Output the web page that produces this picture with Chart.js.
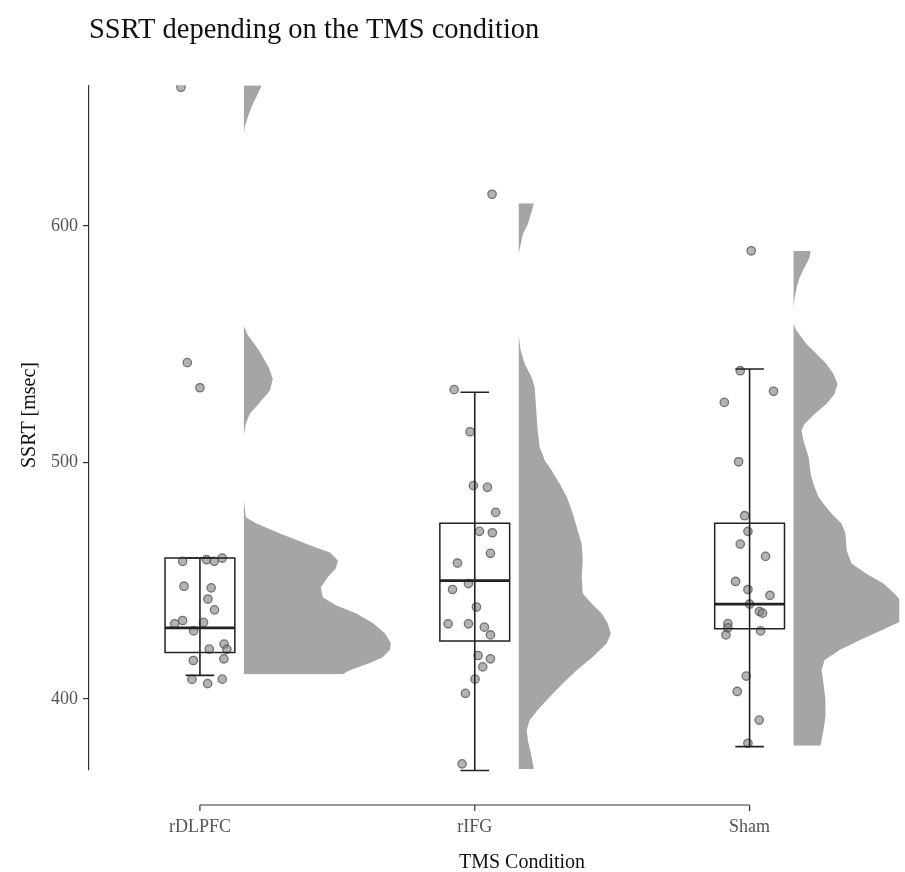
<!DOCTYPE html>
<html>
<head>
<meta charset="utf-8">
<script src="https://cdn.jsdelivr.net/npm/chart.js@4/dist/chart.umd.min.js"></script>
<style>
  html, body { margin: 0; padding: 0; background: #fff; }
  canvas { display: block; }
</style>
</head>
<body>
<canvas id="c" width="905" height="872"></canvas>
<script>
const categories = ['rDLPFC', 'rIFG', 'Sham']
const yTicks = [400, 500, 600]

// SSRT per participant (msec) and the horizontal jitter (category units)
const ssrtDLPFC = [658.6, 542.2, 531.6, 459.6, 458.9, 458.2, 458.2, 447.7, 447.0, 442.3, 437.7, 433.2,
  432.4, 431.8, 428.8, 423.2, 421.1, 421.0, 417.0, 416.3, 408.4, 408.3, 406.5]
const jitterDLPFC = [-0.069, -0.046, 0.000, 0.081, 0.024, -0.063, 0.052, -0.058, 0.041, 0.029, 0.053, -0.063,
  0.013, -0.092, -0.023, 0.088, 0.034, 0.098, 0.087, -0.024, 0.081, -0.029, 0.028]

const ssrtIFG = [613.4, 530.8, 513.0, 490.2, 489.5, 478.9, 470.9, 470.3, 461.6, 457.5, 448.8, 446.3,
  438.9, 431.8, 431.8, 430.4, 427.1, 418.4, 417.0, 413.6, 408.4, 402.4, 372.6]
const jitterIFG = [0.063, -0.075, -0.017, -0.005, 0.046, 0.076, 0.017, 0.064, 0.057, -0.063, -0.023, -0.081,
  0.006, -0.097, -0.023, 0.035, 0.057, 0.012, 0.057, 0.029, 0.001, -0.034, -0.046]

const ssrtSham = [589.5, 538.8, 530.1, 525.4, 500.3, 477.5, 470.9, 465.5, 460.3, 449.7, 446.3, 443.8,
  440.1, 437.0, 436.3, 431.9, 430.1, 428.8, 427.1, 409.7, 403.2, 391.1, 381.3]
const jitterSham = [0.006, -0.034, 0.087, -0.092, -0.040, -0.018, -0.006, -0.034, 0.058, -0.051, -0.006, 0.074,
  0.000, 0.036, 0.047, -0.079, -0.079, 0.040, -0.086, -0.012, -0.045, 0.035, -0.006]

// boxplot: [lower whisker, q1, median, q3, upper whisker]
const boxDLPFC = [410.0, 419.7, 430.1, 459.6, 459.6]
const boxIFG = [369.8, 424.5, 450.1, 474.3, 529.7]
const boxSham = [379.9, 429.7, 440.1, 474.3, 539.5]

// half violin: [SSRT, density width in category units]
const densDLPFC = [[659.5, .065], [654.9, .047], [650.6, .029], [646.4, .015], [642.2, .004], [639.2, 0],
  [557.8, 0], [554.4, .011], [547.3, .055], [540.1, .091], [535.4, .105], [530.4, .095], [524.9, .055],
  [520.7, .022], [516.5, .007], [511.4, 0], [484.0, 0], [476.8, .007], [474.3, .044], [470.0, .131],
  [466.2, .215], [464.1, .262], [462.0, .313], [458.6, .342], [455.3, .335], [451.5, .305], [447.3, .280],
  [443.0, .287], [439.7, .335], [436.3, .407], [432.1, .469], [427.8, .513], [423.6, .535], [420.7, .531],
  [417.7, .505], [415.2, .458], [412.2, .385], [410.5, .360]]
const densIFG = [[609.6, .055], [607.7, .051], [604.9, .044], [600.7, .033], [596.5, .015], [592.3, .007],
  [588.1, 0], [553.6, 0], [547.3, .007], [541.6, .022], [536.0, .047], [531.8, .058], [524.8, .062],
  [513.5, .069], [506.5, .076], [500.8, .095], [496.6, .120], [491.0, .149], [485.4, .175], [479.7, .193],
  [472.7, .211], [465.7, .229], [458.6, .233], [451.6, .229], [444.6, .233], [440.4, .265], [436.2, .302],
  [431.9, .324], [427.7, .335], [423.5, .320], [417.8, .269], [412.2, .211], [406.6, .160], [401.0, .113],
  [395.4, .069], [391.1, .040], [386.9, .029], [382.7, .033], [377.1, .044], [372.9, .051], [370.3, .055]]
const densSham = [[589.5, .062], [586.6, .058], [582.4, .040], [578.2, .022], [574.0, .011], [569.7, .004],
  [565.5, 0], [558.5, 0], [555.7, .011], [550.1, .047], [545.9, .084], [541.6, .120], [537.4, .145],
  [533.2, .160], [529.0, .149], [524.8, .120], [520.5, .076], [516.3, .040], [513.5, .029], [509.3, .036],
  [502.2, .055], [495.2, .062], [489.6, .076], [485.4, .091], [482.6, .109], [478.4, .138], [474.1, .175],
  [469.9, .189], [462.9, .193], [457.3, .211], [453.0, .265], [448.8, .327], [444.6, .367], [440.4, .400],
  [437.6, .430], [435.4, .430], [433.3, .400], [429.1, .320], [424.9, .240], [420.7, .167], [416.5, .113],
  [412.2, .102], [406.6, .109], [399.6, .116], [392.5, .116], [386.9, .109], [382.7, .102], [380.3, .098]]

const groups = [
  { vals: ssrtDLPFC, jit: jitterDLPFC, box: boxDLPFC, dens: densDLPFC },
  { vals: ssrtIFG, jit: jitterIFG, box: boxIFG, dens: densIFG },
  { vals: ssrtSham, jit: jitterSham, box: boxSham, dens: densSham }
]

const BOX_HALF = 0.127
const CAP_HALF = 0.049
const VIOLIN_SHIFT = 0.16
const serif = 'Liberation Serif'

Chart.defaults.font.family = serif

const gap = () => ({ x: NaN, y: NaN })
const boxLines = [], whiskers = [], medians = []
groups.forEach((g, i) => {
  const c = i + 1
  const [lo, q1, med, q3, hi] = g.box
  boxLines.push({ x: c - BOX_HALF, y: q1 }, { x: c + BOX_HALF, y: q1 }, { x: c + BOX_HALF, y: q3 },
    { x: c - BOX_HALF, y: q3 }, { x: c - BOX_HALF, y: q1 }, gap())
  whiskers.push({ x: c, y: lo }, { x: c, y: hi }, gap(),
    { x: c - CAP_HALF, y: lo }, { x: c + CAP_HALF, y: lo }, gap(),
    { x: c - CAP_HALF, y: hi }, { x: c + CAP_HALF, y: hi }, gap())
  medians.push({ x: c - BOX_HALF, y: med }, { x: c + BOX_HALF, y: med }, gap())
})

const lineStyle = {
  type: 'line', pointRadius: 0, borderColor: '#222', borderWidth: 1.5, tension: 0,
  spanGaps: false, clip: false, fill: false, borderCapStyle: 'square', borderJoinStyle: 'miter', order: 0
}

const datasets = [
  { ...lineStyle, data: boxLines },
  { ...lineStyle, data: whiskers, borderWidth: 1.6 },
  { ...lineStyle, data: medians, borderWidth: 2.8, borderCapStyle: 'butt' }
]

groups.forEach((g, i) => {
  datasets.push({
    type: 'scatter',
    data: g.vals.map((v, k) => ({ x: i + 1 + g.jit[k], y: v })),
    pointRadius: 4.2,
    pointBorderWidth: 1.3,
    backgroundColor: 'rgba(128,128,128,0.6)',
    borderColor: 'rgba(80,80,80,0.75)',
    order: 1
  })
})

groups.forEach((g, i) => {
  const base = i + 1 + VIOLIN_SHIFT
  datasets.push({
    type: 'line',
    indexAxis: 'y',
    data: g.dens.map(([v, w]) => ({ x: base + w, y: v })),
    fill: { value: base },
    backgroundColor: '#a5a5a5',
    borderWidth: 0,
    pointRadius: 0,
    tension: 0,
    order: 2
  })
})

// x axis sits below the panel, drawn between first and last category
const axisExtras = {
  id: 'axisExtras',
  afterDraw(chart) {
    const { ctx, chartArea, scales: { x } } = chart
    const ay = chartArea.bottom + 35
    ctx.save()
    ctx.strokeStyle = '#333'
    ctx.lineWidth = 1.2
    ctx.beginPath()
    ctx.moveTo(x.getPixelForValue(1), ay)
    ctx.lineTo(x.getPixelForValue(categories.length), ay)
    categories.forEach((_, i) => {
      const px = x.getPixelForValue(i + 1)
      ctx.moveTo(px, ay)
      ctx.lineTo(px, ay + 6)
    })
    ctx.stroke()

    ctx.fillStyle = '#111'
    ctx.font = '20px "' + serif + '"'
    ctx.textAlign = 'center'
    ctx.textBaseline = 'alphabetic'
    ctx.fillText('TMS Condition', 522, 868)
    ctx.translate(30, 415)
    ctx.rotate(-Math.PI / 2)
    ctx.textBaseline = 'middle'
    ctx.fillText('SSRT [msec]', 0, 0)
    ctx.restore()
  }
}

new Chart(document.getElementById('c'), {
  type: 'scatter',
  data: { datasets },
  plugins: [axisExtras],
  options: {
    responsive: false,
    animation: false,
    layout: { padding: 0 },
    plugins: {
      legend: { display: false },
      tooltip: { enabled: false },
      title: {
        display: true,
        text: 'SSRT depending on the TMS condition',
        align: 'start',
        fullSize: false,
        color: '#111',
        font: { family: serif, size: 28.5, weight: 'normal' },
        padding: { top: 13, bottom: 38 }
      }
    },
    scales: {
      x: {
        type: 'linear',
        // panel is 811px wide, one category step = 275px
        min: 1 - 111 / 275,
        max: 3 + 150 / 275,
        afterBuildTicks: s => { s.ticks = categories.map((_, i) => ({ value: i + 1 })) },
        afterFit: s => { s.height = 102; s.paddingLeft = 0; s.paddingRight = 0 },
        grid: { display: false, drawTicks: false },
        border: { display: false },
        ticks: {
          callback: (v, i) => categories[i],
          color: '#555',
          font: { family: serif, size: 18 },
          padding: 46,
          maxRotation: 0,
          autoSkip: false
        }
      },
      y: {
        type: 'linear',
        min: 370,
        max: 659.5,
        afterBuildTicks: s => { s.ticks = yTicks.map(v => ({ value: v })) },
        afterFit: s => { s.width = 89 },
        grid: { drawOnChartArea: false, tickLength: 6, color: '#333', lineWidth: 1.2 },
        border: { color: '#333', width: 1.2 },
        ticks: { color: '#555', font: { family: serif, size: 18 }, padding: 5 }
      }
    }
  }
})
</script>
</body>
</html>
